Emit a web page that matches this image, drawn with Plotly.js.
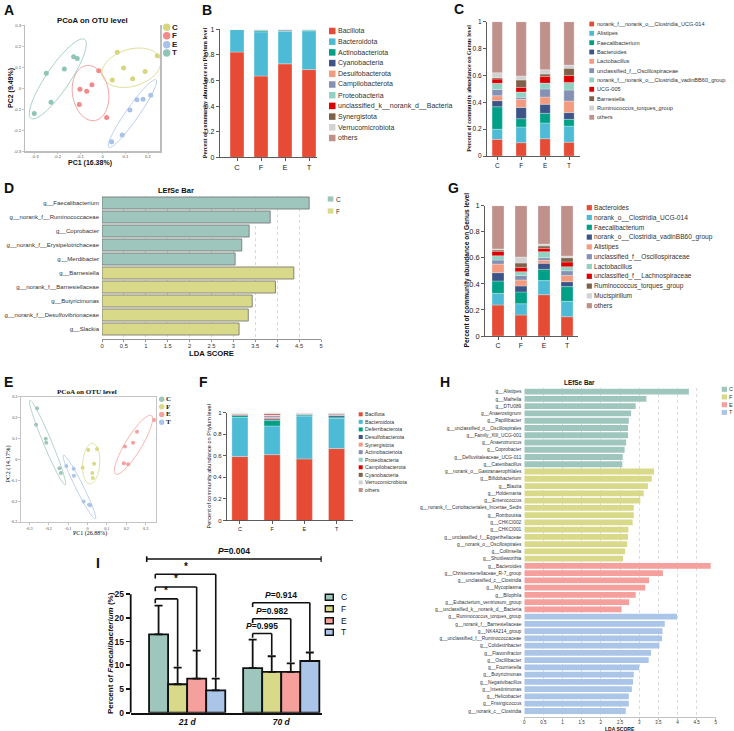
<!DOCTYPE html>
<html>
<head>
<meta charset="utf-8">
<script src="https://cdn.plot.ly/plotly-3.0.1.min.js"></script>
<style>
html,body{margin:0;padding:0;background:#fff;}
#fig{width:734px;height:731px;}
</style>
</head>
<body>
<div id="fig"></div>
<script>
// ---------------- data ----------------
const groups = ['C', 'F', 'E', 'T'];

// A: PCoA on OTU level, first sampling (PC1 16.38 %, PC2 9.49 %)
const pcoa1PC1 = {
  C: [0.064, 0.241, 0.092, 0.187, 0.042, 0.132],
  F: [-0.018, -0.048, -0.101, -0.071, -0.104, 0.017],
  E: [0.212, 0.178, 0.151, 0.120, 0.086, 0.039],
  T: [-0.129, -0.113, -0.170, -0.250, -0.229, -0.303]
};
const pcoa1PC2 = {
  C: [0.170, 0.154, 0.095, 0.078, 0.038, 0.044],
  F: [0.082, 0.016, -0.006, -0.016, -0.079, -0.141],
  E: [-0.035, -0.054, -0.056, -0.105, -0.224, -0.256],
  T: [0.149, 0.140, 0.090, 0.070, -0.068, -0.121]
};

// E: PCoA on OTU level, second sampling (PC1 26.88 %, PC2 14.17 %)
const pcoa2PC1 = {
  C: [-0.260, -0.265, -0.215, -0.212, -0.145, -0.137],
  F: [0.004, 0.049, -0.025, 0.034, 0.025, 0.028],
  E: [0.343, 0.255, 0.235, 0.193, 0.187, 0.209],
  T: [-0.109, -0.071, -0.070, -0.020, 0.008, 0.014]
};
const pcoa2PC2 = {
  C: [0.245, 0.166, 0.099, 0.080, -0.043, -0.065],
  F: [0.045, 0.049, -0.040, -0.021, -0.065, -0.089],
  E: [0.188, 0.132, 0.080, 0.061, -0.019, -0.024],
  T: [-0.032, -0.045, -0.078, -0.202, -0.217, -0.220]
};

// B: phylum composition, first sampling (rows: taxa, columns: C F E T)
const phylum1Taxa = ['Bacillota', 'Bacteroidota', 'Actinobacteriota', 'Cyanobacteria', 'Desulfobacterota',
  'Campilobacterota', 'Proteobacteria', 'unclassified_k__norank_d__Bacteria', 'Synergistota', 'Verrucomicrobiota', 'others'];
const phylum1Values = [
  [0.822, 0.635, 0.730, 0.685],
  [0.176, 0.345, 0.255, 0.303],
  [0.001, 0.012, 0.003, 0.007],
  [0.0003, 0.002, 0.007, 0.001],
  [0.0003, 0.002, 0.002, 0.001],
  [0.0002, 0.001, 0.001, 0.001],
  [0.0002, 0.001, 0.001, 0.001],
  [0.0001, 0.0005, 0.0003, 0.0003],
  [0.0001, 0.0003, 0.0002, 0.0002],
  [0.0001, 0.0003, 0.0002, 0.0002],
  [0.0007, 0.0009, 0.0003, 0.0003]
];

// C: genus composition, first sampling
const genus1Taxa = ['norank_f__norank_o__Clostridia_UCG-014', 'Alistipes', 'Faecalibacterium', 'Bacteroides',
  'Lactobacillus', 'unclassified_f__Oscillospiraceae', 'norank_f__norank_o__Clostridia_vadinBB60_group',
  'UCG-005', 'Barnesiella', 'Ruminococcus_torques_group', 'others'];
const genus1Values = [
  [0.124, 0.099, 0.129, 0.103],
  [0.075, 0.117, 0.117, 0.120],
  [0.168, 0.062, 0.072, 0.050],
  [0.045, 0.084, 0.067, 0.050],
  [0.037, 0.060, 0.054, 0.086],
  [0.047, 0.015, 0.060, 0.082],
  [0.045, 0.039, 0.044, 0.057],
  [0.032, 0.035, 0.050, 0.052],
  [0.010, 0.055, 0.017, 0.053],
  [0.037, 0.030, 0.033, 0.024],
  [0.380, 0.404, 0.357, 0.323]
];

// D: LEfSe, first sampling
const lefse1Taxa = ['g__Faecalibacterium', 'g__norank_f__Ruminococcaceae', 'g__Coprobacter',
  'g__norank_f__Erysipelotrichaceae', 'g__Merdibacter', 'g__Barnesiella', 'g__norank_f__Barnesiellaceae',
  'g__Butyricimonas', 'g__norank_f__Desulfovibrionaceae', 'g__Slackia'];
const lefse1LDA = [4.73, 3.84, 3.36, 3.19, 3.04, 4.38, 3.96, 3.43, 3.34, 3.13];
const lefse1Group = ['C', 'C', 'C', 'C', 'C', 'F', 'F', 'F', 'F', 'F'];

// G: genus composition, second sampling
const genus2Taxa = ['Bacteroides', 'norank_o__Clostridia_UCG-014', 'Faecalibacterium',
  'norank_o__Clostridia_vadinBB60_group', 'Alistipes', 'unclassified_f__Oscillospiraceae', 'Lactobacillus',
  'unclassified_f__Lachnospiraceae', 'Ruminococcus_torques_group', 'Mucispirillum', 'others'];
const genus2Values = [
  [0.238, 0.161, 0.317, 0.148],
  [0.089, 0.087, 0.108, 0.118],
  [0.095, 0.090, 0.087, 0.113],
  [0.064, 0.046, 0.046, 0.038],
  [0.066, 0.046, 0.023, 0.048],
  [0.031, 0.035, 0.020, 0.036],
  [0.033, 0.029, 0.046, 0.031],
  [0.034, 0.033, 0.026, 0.036],
  [0.010, 0.033, 0.018, 0.033],
  [0.008, 0.046, 0.015, 0.013],
  [0.332, 0.394, 0.294, 0.386]
];

// F: phylum composition, second sampling
const phylum2Taxa = ['Bacillota', 'Bacteroidota', 'Deferribacterota', 'Desulfobacterota', 'Synergistota',
  'Actinobacteriota', 'Proteobacteria', 'Campilobacterota', 'Cyanobacteria', 'Verrucomicrobiota', 'others'];
const phylum2Values = [
  [0.593, 0.611, 0.571, 0.667],
  [0.364, 0.266, 0.398, 0.281],
  [0.018, 0.052, 0.009, 0.012],
  [0.006, 0.012, 0.007, 0.015],
  [0.013, 0.016, 0.003, 0.006],
  [0.002, 0.015, 0.006, 0.013],
  [0.001, 0.006, 0.001, 0.001],
  [0.001, 0.010, 0.001, 0.001],
  [0.001, 0.003, 0.001, 0.001],
  [0.001, 0.003, 0.001, 0.001],
  [0.000, 0.006, 0.002, 0.002]
];

// H: LEfSe, second sampling
const lefse2Taxa = [
  'g__Alistipes', 'g__Maihella', 'g__DTU089', 'g__Anaerostignum', 'g__Papillibacter',
  'g__unclassified_o__Oscillospirales', 'g__Family_XIII_UCG-001', 'g__Anaerotruncus', 'g__Coprobacter',
  'g__Defluviitaleaceae_UCG-011', 'g__Catenibacillus',
  'g__norank_o__Gastranaerophilales', 'g__Bifidobacterium', 'g__Blautia', 'g__Holdemania', 'g__Enterococcus',
  'g__norank_f__Coriobacteriales_Incertae_Sedis', 'g__Romboutsia', 'g__CHKCI002', 'g__CHKCI001',
  'g__unclassified_f__Eggerthellaceae', 'g__norank_o__Oscillospirales', 'g__Collinsella', 'g__Shuttleworthia',
  'g__Bacteroides', 'g__Christensenellaceae_R-7_group', 'g__unclassified_c__Clostridia', 'g__Mycoplasma',
  'g__Bilophila', 'g__Eubacterium_ventriosum_group', 'g__unclassified_k__norank_d__Bacteria',
  'g__Ruminococcus_torques_group', 'g__norank_f__Barnesiellaceae', 'g__NK4A214_group',
  'g__unclassified_f__Ruminococcaceae', 'g__Colidextribacter', 'g__Flavonifractor', 'g__Oscillibacter',
  'g__Fournierella', 'g__Butyricimonas', 'g__Negativibacillus', 'g__Intestinimonas', 'g__Helicobacter',
  'g__Frisingicoccus', 'g__norank_c__Clostridia'];
const lefse2LDA = [
  4.30, 3.19, 2.91, 2.79, 2.73, 2.71, 2.71, 2.66, 2.62, 2.57, 2.56,
  3.39, 3.33, 3.23, 3.12, 3.03, 2.86, 2.86, 2.83, 2.72, 2.71, 2.69, 2.63, 2.58,
  4.87, 3.62, 3.26, 3.16, 2.91, 2.74, 2.54,
  3.99, 3.67, 3.61, 3.60, 3.53, 3.31, 3.25, 3.00, 2.86, 2.84, 2.81, 2.73, 2.73, 2.65];
const lefse2Group = [].concat(Array(11).fill('C'), Array(13).fill('F'), Array(7).fill('E'), Array(14).fill('T'));

// I: relative abundance of Faecalibacterium (%), mean and SD
const faecDays = ['21 d', '70 d'];
const faecMean = { C: [16.5, 9.4], F: [6.0, 8.6], E: [7.2, 8.6], T: [4.7, 10.9] };
const faecSD   = { C: [6.1, 6.0],  F: [3.5, 3.3], E: [5.9, 1.8], T: [2.5, 1.8] };
// pairwise comparisons against C within each day
const faecTests = [
  { day: 0, to: 1, y: 24.0, text: '*' },
  { day: 0, to: 2, y: 26.5, text: '*' },
  { day: 0, to: 3, y: 29.2, text: '*' },
  { day: 1, to: 1, y: 16.7, text: '<i>P</i>=0.995' },
  { day: 1, to: 2, y: 19.8, text: '<i>P</i>=0.982' },
  { day: 1, to: 3, y: 23.2, text: '<i>P</i>=0.914' }
];
const faecOverall = '<i>P</i>=0.004';

// ---------------- styling ----------------
const W = 734, H = 731;
const SANS = 'Liberation Sans, Arial, sans-serif';
const SERIF = 'Liberation Serif, Times New Roman, serif';
const npg = ['#e64b35', '#4dbbd5', '#00a087', '#3c5488', '#f39b7f', '#8491b4', '#91d1c2', '#dc0000', '#7e6148', '#d2d2d2', '#c0908a'];
const colA = { C: '#d6d67c', F: '#f28a8a', E: '#a8c2ea', T: '#8fc5b7' };     // panel A palette
const colG = { C: '#9fc6bc', F: '#d9d98a', E: '#f5a09d', T: '#abc5e8' };     // C/F/E/T palette elsewhere

const P = v => v / W;            // pixel x -> paper
const Q = v => 1 - v / H;        // pixel y -> paper
const xd = (a, b) => [P(a), P(b)];
const yd = (a, b) => [Q(b), Q(a)];

const traces = [];
const anns = [];
const shapes = [];

function label(x, y, text, o = {}) {
  anns.push({
    xref: 'paper', yref: 'paper', x: P(x), y: Q(y), text, showarrow: false, borderpad: 0,
    xanchor: o.xanchor || 'center', yanchor: o.yanchor || 'middle', textangle: o.angle || 0,
    font: { family: o.family || SANS, size: o.size || 8, color: o.color || '#222', weight: o.weight || 'normal' }
  });
}
function boxPx(x0, y0, x1, y1, fill, line) {
  shapes.push({ type: 'rect', xref: 'paper', yref: 'paper', x0: P(x0), x1: P(x1), y0: Q(y1), y1: Q(y0),
    fillcolor: fill, line: line || { width: 0 } });
}
function dotPx(cx, cy, r, fill) {
  shapes.push({ type: 'circle', xref: 'paper', yref: 'paper', x0: P(cx - r), x1: P(cx + r), y0: Q(cy + r), y1: Q(cy - r),
    fillcolor: fill, line: { width: 0 } });
}
function axis(o) {
  return Object.assign({ showgrid: false, zeroline: false, fixedrange: true, ticks: '', showline: false, automargin: false }, o);
}

// covariance ellipse around a group of ordination points
function ellipse(xs, ys, k) {
  const n = xs.length;
  const mx = xs.reduce((a, b) => a + b, 0) / n, my = ys.reduce((a, b) => a + b, 0) / n;
  let sxx = 0, syy = 0, sxy = 0;
  for (let i = 0; i < n; i++) {
    sxx += (xs[i] - mx) ** 2; syy += (ys[i] - my) ** 2; sxy += (xs[i] - mx) * (ys[i] - my);
  }
  sxx /= n - 1; syy /= n - 1; sxy /= n - 1;
  const tr = sxx + syy, det = sxx * syy - sxy * sxy;
  const d = Math.sqrt(Math.max(tr * tr / 4 - det, 0));
  const l1 = tr / 2 + d, l2 = Math.max(tr / 2 - d, 0);
  const th = 0.5 * Math.atan2(2 * sxy, sxx - syy);
  const a = k * Math.sqrt(l1), b = k * Math.sqrt(l2);
  const ex = [], ey = [];
  for (let i = 0; i <= 90; i++) {
    const t = 2 * Math.PI * i / 90;
    ex.push(mx + a * Math.cos(t) * Math.cos(th) - b * Math.sin(t) * Math.sin(th));
    ey.push(my + a * Math.cos(t) * Math.sin(th) + b * Math.sin(t) * Math.cos(th));
  }
  return { x: ex, y: ey };
}

function pcoa(pc1, pc2, colors, ax, size) {
  groups.forEach(g => {
    const e = ellipse(pc1[g], pc2[g], 1.7);
    traces.push({ type: 'scatter', mode: 'lines', x: e.x, y: e.y, xaxis: 'x' + ax, yaxis: 'y' + ax,
      line: { color: colors[g], width: 0.8, shape: 'spline' }, hoverinfo: 'skip', showlegend: false });
  });
  groups.forEach(g => {
    traces.push({ type: 'scatter', mode: 'markers', x: pc1[g], y: pc2[g], xaxis: 'x' + ax, yaxis: 'y' + ax,
      marker: { size, color: colors[g] }, showlegend: false, cliponaxis: false });
  });
}

function stacked(taxa, values, ax, width) {
  const base = groups.map(() => 0);
  taxa.forEach((t, i) => {
    traces.push({ type: 'bar', name: t, x: groups, y: values[i], base: base.slice(), width,
      offsetgroup: 's' + ax, xaxis: 'x' + ax, yaxis: 'y' + ax, showlegend: false,
      marker: { color: npg[i], line: { color: 'rgba(255,255,255,0.55)', width: 0.5 } } });
    values[i].forEach((v, j) => { base[j] += v; });
  });
}

function swatches(taxa, x, y0, step, size, fontSize) {
  taxa.forEach((t, i) => {
    const cy = y0 + i * step;
    boxPx(x, cy - size / 2, x + size, cy + size / 2, npg[i]);
    label(x + size + 1.5, cy, t, { xanchor: 'left', size: fontSize, color: '#333' });
  });
}

// ---------------- A ----------------
pcoa(pcoa1PC1, pcoa1PC2, colA, '', 5);
// ---------------- E ----------------
pcoa(pcoa2PC1, pcoa2PC2, colG, '6', 4);
// ---------------- B / C / G / F ----------------
stacked(phylum1Taxa, phylum1Values, '2', 0.58);
stacked(genus1Taxa, genus1Values, '3', 0.43);
stacked(genus2Taxa, genus2Values, '5', 0.52);
stacked(phylum2Taxa, phylum2Values, '7', 0.5);
// ---------------- D / H ----------------
traces.push({ type: 'bar', orientation: 'h', y: lefse1Taxa, x: lefse1LDA, xaxis: 'x4', yaxis: 'y4', width: 0.86,
  marker: { color: lefse1Group.map(g => colG[g]), line: { color: '#6d6d6d', width: 0.8 } }, showlegend: false });
traces.push({ type: 'bar', orientation: 'h', y: lefse2Taxa, x: lefse2LDA, xaxis: 'x8', yaxis: 'y8', width: 0.8,
  marker: { color: lefse2Group.map(g => colG[g]), line: { width: 0 } }, showlegend: false });
// ---------------- I ----------------
groups.forEach(g => {
  traces.push({ type: 'bar', name: g, x: faecDays, y: faecMean[g], xaxis: 'x9', yaxis: 'y9', showlegend: false,
    marker: { color: colG[g], line: { color: '#111', width: 1.8 } },
    error_y: { type: 'data', symmetric: false, array: faecSD[g], arrayminus: [0, 0], color: '#111', thickness: 1.8, width: 4 } });
});

// bracket geometry for I (bar centres inside a day group)
const barOff = [-0.304, -0.101, 0.101, 0.304];
function seg(x0, y0, x1, y1) {
  shapes.push({ type: 'line', xref: 'x9', yref: 'y9', x0, y0, x1, y1, line: { color: '#111', width: 1.6 } });
}
faecTests.forEach(t => {
  const xl = t.day + barOff[0] - (t.day === 0 ? 0.035 : 0), xr = t.day + barOff[t.to];
  const g = groups[t.to];
  seg(xl, t.y, xr, t.y);
  seg(xl, t.y, xl, t.y - 0.9);
  seg(xr, t.y, xr, faecMean[g][t.day] + faecSD[g][t.day] + 0.2);
  const star = t.text === '*';
  anns.push({ xref: 'x9', yref: 'y9', x: (xl + xr) / 2, y: t.y + (star ? 0.35 : 0.3), yanchor: 'bottom', showarrow: false,
    borderpad: 0, text: '<b>' + t.text + '</b>', font: { family: SANS, size: star ? 10 : 8.5, color: '#111' } });
});
seg(-0.43, 32.4, 1.426, 32.4);
seg(-0.43, 31.8, -0.43, 33.0);
seg(1.426, 31.8, 1.426, 33.0);
anns.push({ xref: 'x9', yref: 'y9', x: 0.5, y: 32.9, yanchor: 'bottom', showarrow: false, borderpad: 0,
  text: '<b>' + faecOverall + '</b>', font: { family: SANS, size: 8.5, color: '#111' } });
// y axis line of I only up to 25 %
shapes.push({ type: 'line', xref: 'x9 domain', yref: 'y9', x0: 0, x1: 0, y0: 0, y1: 25, line: { color: '#111', width: 1.8 } });

// ---------------- axes ----------------
const tick01 = [0, 0.2, 0.4, 0.6, 0.8, 1];
const tick01t = ['0', '0.2', '0.4', '0.6', '0.8', '1'];
const ldaVals = [0, 0.5, 1, 1.5, 2, 2.5, 3, 3.5, 4, 4.5, 5];
const ldaText = ['0', '0.5', '1', '1.5', '2', '2.5', '3', '3.5', '4', '4.5', '5'];
const pcTicks = [-0.3, -0.2, -0.1, 0, 0.1, 0.2, 0.3];
const pcText = ['-0.3', '-0.2', '-0.1', '0', '0.1', '0.2', '0.3'];

function compX(dom, range, anchor, fs) {
  return axis({ domain: dom, range, anchor, type: 'category', categoryorder: 'array', categoryarray: groups,
    showline: true, linecolor: '#333', linewidth: 0.8, ticks: 'outside', ticklen: 3, tickcolor: '#333', tickwidth: 0.8,
    tickfont: { family: SANS, size: fs, color: '#222' } });
}
function compY(dom, anchor, fs) {
  return axis({ domain: dom, range: [0, 1], anchor, tickvals: tick01, ticktext: tick01t,
    showline: true, linecolor: '#333', linewidth: 0.8, ticks: 'outside', ticklen: 3, tickcolor: '#333', tickwidth: 0.8,
    tickfont: { family: SANS, size: fs, color: '#222' } });
}

const layout = {
  width: W, height: H, margin: { l: 0, r: 0, t: 0, b: 0 },
  paper_bgcolor: '#fff', plot_bgcolor: 'rgba(0,0,0,0)', showlegend: false,
  barmode: 'group', bargap: 0.19, bargroupgap: 0,
  // A
  xaxis: axis({ domain: xd(25, 160), range: [-0.344, 0.253], anchor: 'y', tickvals: pcTicks.slice(0, 6), ticktext: pcText.slice(0, 6),
    showline: true, linecolor: '#bdbdbd', linewidth: 1.5, ticks: 'outside', ticklen: 1.5, tickcolor: '#999', tickwidth: 0.6,
    ticklabelstandoff: -1, tickfont: { family: SANS, size: 4.3, color: '#555' } }),
  yaxis: axis({ domain: yd(25, 151), range: [-0.3, 0.3], anchor: 'x', tickvals: pcTicks, ticktext: pcText,
    showline: true, mirror: true, linecolor: '#bdbdbd', linewidth: 1.5, ticks: 'outside', ticklen: 1.5, tickcolor: '#999', tickwidth: 0.6,
    tickfont: { family: SANS, size: 4.3, color: '#555' } }),
  // B
  xaxis2: compX(xd(219.5, 316.7), [-0.73, 3.32], 'y2', 7.5),
  yaxis2: compY(yd(29.3, 157.3), 'x2', 7),
  // C
  xaxis3: compX(xd(486.7, 580), [-0.44, 3.46], 'y3', 6.5),
  yaxis3: compY(yd(21.7, 156), 'x3', 6.5),
  // D
  xaxis4: axis({ domain: xd(102, 321), range: [0, 5], anchor: 'y4', tickvals: ldaVals, ticktext: ldaText,
    showgrid: true, gridcolor: '#cfcfcf', griddash: 'dot', gridwidth: 0.8,
    showline: true, linecolor: '#777', linewidth: 0.8, ticks: 'outside', ticklen: 2.5, tickcolor: '#777', tickwidth: 0.8,
    ticklabelstandoff: -1, tickfont: { family: SANS, size: 5.8, color: '#333' } }),
  yaxis4: axis({ domain: yd(196, 339), range: [9.714, -0.5], anchor: 'x4', type: 'category',
    tickfont: { family: SANS, size: 6, color: '#333' }, ticklabelstandoff: 2 }),
  // G
  xaxis5: compX(xd(485, 578.3), [-0.565, 3.49], 'y5', 7),
  yaxis5: compY(yd(205.7, 336), 'x5', 7.5),
  // E
  xaxis6: axis({ domain: xd(20.7, 156), range: [-0.344, 0.353], anchor: 'y6', tickvals: pcTicks, ticktext: pcText,
    showline: true, mirror: true, linecolor: '#c4c4c4', linewidth: 1, ticks: 'outside', ticklen: 1.5, tickcolor: '#999', tickwidth: 0.6,
    ticklabelstandoff: -1.5, tickfont: { family: SERIF, size: 4.2, color: '#444' } }),
  yaxis6: axis({ domain: yd(396.7, 522), range: [-0.3, 0.3], anchor: 'x6', tickvals: pcTicks, ticktext: pcText,
    showline: true, mirror: true, linecolor: '#c4c4c4', linewidth: 1, ticks: 'outside', ticklen: 1.5, tickcolor: '#999', tickwidth: 0.6,
    tickfont: { family: SERIF, size: 4.2, color: '#444' } }),
  // F
  xaxis7: compX(xd(226.7, 353), [-0.41, 3.51], 'y7', 5.5),
  yaxis7: compY(yd(412.7, 520.5), 'x7', 6),
  // H
  xaxis8: axis({ domain: xd(524.3, 715.7), range: [0, 5], anchor: 'y8', tickvals: ldaVals, ticktext: ldaText,
    showgrid: true, gridcolor: '#d4d4d4', griddash: 'dot', gridwidth: 0.8,
    showline: true, linecolor: '#999', linewidth: 0.6, ticks: 'outside', ticklen: 2, tickcolor: '#999', tickwidth: 0.6,
    ticklabelstandoff: -1, tickfont: { family: SANS, size: 4.5, color: '#333' } }),
  yaxis8: axis({ domain: yd(388, 717), range: [44.83, -0.51], anchor: 'x8', type: 'category',
    tickfont: { family: SANS, size: 4.8, color: '#333' }, ticklabelstandoff: 2 }),
  // I
  xaxis9: axis({ domain: xd(130.7, 321.7), range: [-0.6, 1.43], anchor: 'y9', type: 'category',
    showline: true, linecolor: '#111', linewidth: 1.8,
    tickfont: { family: SANS, size: 8.5, color: '#111', weight: 'bold', style: 'italic' } }),
  yaxis9: axis({ domain: yd(542, 712.7), range: [0, 36], anchor: 'x9', tickvals: [0, 5, 10, 15, 20, 25],
    ticks: 'outside', ticklen: 4, tickwidth: 1.8, tickcolor: '#111',
    tickfont: { family: SANS, size: 8.5, color: '#111', weight: 'bold' } }),
  annotations: anns,
  shapes: shapes
};

// ---------------- panel letters & titles ----------------
[['A', 3, 10], ['B', 201, 10], ['C', 452.5, 9.5], ['D', 3, 188], ['G', 446.5, 188.5],
 ['E', 3, 381.5], ['F', 198, 382], ['H', 439, 381.5], ['I', 94.5, 563]].forEach(([t, x, y]) =>
  label(x, y, t, { xanchor: 'left', size: 14, weight: 'bold', color: '#111' }));

label(92.5, 21, 'PCoA on OTU level', { size: 7.8, weight: 'bold', color: '#111' });
label(90, 162.5, 'PC1 (16.38%)', { size: 7, weight: 'bold', color: '#111' });
label(10.5, 88.5, 'PC2 (9.49%)', { size: 7, weight: 'bold', color: '#111', angle: -90 });

label(87.3, 392.3, 'PCoA on OTU level', { size: 7.1, weight: 'bold', family: SERIF, color: '#111' });
label(89.5, 533, 'PC1 (26.88%)', { size: 6, family: SERIF, color: '#111' });
label(7, 464.5, 'PC2 (14.17%)', { size: 6.5, family: SERIF, color: '#111', angle: -90 });

label(205, 93.3, 'Percent of community abundance on Phylum level', { size: 6.1, weight: 'bold', family: SERIF, color: '#111', angle: -90 });
label(468.3, 88.5, 'Percent of community abundance on Genus level', { size: 6.1, weight: 'bold', family: SERIF, color: '#111', angle: -90 });
label(466.5, 270, 'Percent of community abundance on Genus level', { size: 6.6, weight: 'bold', color: '#111', angle: -90 });
label(208, 466.5, 'Percent of community abundance on Phylum level', { size: 5.6, color: '#111', angle: -90 });

label(176.3, 190, 'LEfSe Bar', { size: 7.5, weight: 'bold', color: '#111' });
label(211.5, 353, 'LDA SCORE', { size: 7.7, weight: 'bold', color: '#111' });
label(579.7, 383, 'LEfSe Bar', { size: 6.4, weight: 'bold', color: '#111' });
label(620.3, 728.8, 'LDA SCORE', { size: 5, weight: 'bold', color: '#111' });

label(110, 653, 'Percent of <i>Faecalibacterium</i> (%)', { size: 8, weight: 'bold', color: '#111', angle: -90 });

// ---------------- legends ----------------
groups.forEach((g, i) => {
  const cy = [27.3, 35.7, 44.7, 53][i];
  dotPx(166.7, cy, 3.7, colA[g]);
  label(170.5, cy, g, { xanchor: 'left', size: 8, weight: 'bold', color: '#222' });
});
groups.forEach((g, i) => {
  const cy = [399.3, 406.8, 414.4, 422.3][i];
  dotPx(161.7, cy, 2.7, colG[g]);
  label(165, cy, g, { xanchor: 'left', size: 7, weight: 'bold', family: SERIF, color: '#222' });
});
swatches(phylum1Taxa, 329, 31, 10.7, 6.5, 7);
swatches(genus1Taxa, 589.3, 24, 9.33, 4.8, 5.6);
swatches(genus2Taxa, 586.7, 207.7, 9.8, 5.2, 6.6);
swatches(phylum2Taxa, 358.7, 414.3, 7.57, 4, 5.2);

['C', 'F'].forEach((g, i) => {
  const cy = [199, 211][i];
  boxPx(327.7, cy - 2.6, 333.3, cy + 2.6, colG[g]);
  label(334.5, cy, g, { xanchor: 'left', size: 6.5, color: '#333' });
});
groups.forEach((g, i) => {
  const cy = [389.3, 397, 404.7, 412.4][i];
  boxPx(721.7, cy - 2.5, 727, cy + 2.5, colG[g]);
  label(727.8, cy, g, { xanchor: 'left', size: 5.5, color: '#333' });
});
groups.forEach((g, i) => {
  const cy = [597.3, 608.7, 620.7, 632.3][i];
  boxPx(325.3, cy - 3, 333.3, cy + 3, colG[g], { color: '#111', width: 1.4 });
  label(339.5, cy, g, { xanchor: 'left', size: 8.5, color: '#111' });
});

Plotly.newPlot('fig', traces, layout, { staticPlot: true, displayModeBar: false });
</script>
</body>
</html>
